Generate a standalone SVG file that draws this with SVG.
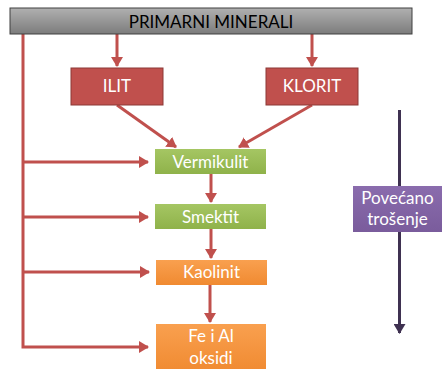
<svg xmlns="http://www.w3.org/2000/svg" width="445" height="369" viewBox="0 0 445 369">
<defs>
<linearGradient id="gGray" x1="0" y1="0" x2="0" y2="1"><stop offset="0" stop-color="#b0b0b0"/><stop offset="1" stop-color="#7c7c7c"/></linearGradient>
<linearGradient id="gGreen" x1="0" y1="0" x2="0" y2="1"><stop offset="0" stop-color="#a5c663"/><stop offset="1" stop-color="#8fb24a"/></linearGradient>
<linearGradient id="gOrange" x1="0" y1="0" x2="0" y2="1"><stop offset="0" stop-color="#f9a04f"/><stop offset="1" stop-color="#f08a31"/></linearGradient>
<linearGradient id="gPurple" x1="0" y1="0" x2="0" y2="1"><stop offset="0" stop-color="#8a6cad"/><stop offset="1" stop-color="#7a5c9c"/></linearGradient>
<marker id="ar" markerWidth="12" markerHeight="12" refX="9" refY="6" orient="auto" markerUnits="userSpaceOnUse"><path d="M0,0 L10,6 L0,12 z" fill="#c0504d"/></marker>
<marker id="ap" markerWidth="12" markerHeight="12" refX="9" refY="6" orient="auto" markerUnits="userSpaceOnUse"><path d="M0,0 L10,6 L0,12 z" fill="#3f3151"/></marker>
</defs>
<style>
.t{font-family:Lato,"Open Sans","Liberation Sans",sans-serif;font-size:17px;text-anchor:middle;fill:#ffffff}
.c{stroke:#c0504d;stroke-width:3;fill:none}
</style>
<g id="connectors">
<polyline class="c" points="23,34 23,347 148,347" marker-end="url(#ar)"/>
<line class="c" x1="23" y1="162" x2="148" y2="162" marker-end="url(#ar)"/>
<line class="c" x1="23" y1="217" x2="148" y2="217" marker-end="url(#ar)"/>
<line class="c" x1="23" y1="272" x2="149" y2="272" marker-end="url(#ar)"/>
<line class="c" x1="117" y1="34" x2="117" y2="66" marker-end="url(#ar)"/>
<line class="c" x1="312" y1="34" x2="312" y2="66" marker-end="url(#ar)"/>
<line class="c" x1="117" y1="105" x2="176" y2="147" marker-end="url(#ar)"/>
<line class="c" x1="312" y1="105" x2="239" y2="147" marker-end="url(#ar)"/>
<line class="c" x1="211" y1="174" x2="211" y2="202" marker-end="url(#ar)"/>
<line class="c" x1="211" y1="229" x2="211" y2="258" marker-end="url(#ar)"/>
<line class="c" x1="210" y1="285" x2="210" y2="322" marker-end="url(#ar)"/>
<line stroke="#3f3151" stroke-width="3" x1="399.5" y1="110" x2="399.5" y2="333" marker-end="url(#ap)"/>
</g>
<g id="primarni">
<rect x="10" y="8" width="402" height="26" fill="url(#gGray)" stroke="#404040" stroke-width="1"/>
<text class="t" x="211" y="28" style="fill:#000000">PRIMARNI MINERALI</text>
</g>
<g id="ilit">
<rect x="71" y="68" width="92" height="37" fill="#c0504d" stroke="#8c3836" stroke-width="1"/>
<text class="t" x="117" y="92">ILIT</text>
</g>
<g id="klorit">
<rect x="266" y="68" width="92" height="37" fill="#c0504d" stroke="#8c3836" stroke-width="1"/>
<text class="t" x="312" y="92">KLORIT</text>
</g>
<g id="vermikulit">
<rect x="155" y="149" width="111" height="25" fill="url(#gGreen)"/>
<text class="t" x="210.5" y="168">Vermikulit</text>
</g>
<g id="smektit">
<rect x="155" y="204" width="111" height="25" fill="url(#gGreen)"/>
<text class="t" x="210.5" y="223">Smektit</text>
</g>
<g id="kaolinit">
<rect x="156" y="260" width="111" height="25" fill="url(#gOrange)"/>
<text class="t" x="211.5" y="278">Kaolinit</text>
</g>
<g id="oksidi">
<rect x="156" y="324" width="110" height="48" fill="url(#gOrange)"/>
<text class="t" x="211" y="342">Fe i Al</text>
<text class="t" x="211" y="364">oksidi</text>
</g>
<g id="povecano">
<rect x="353" y="186" width="89" height="46" fill="url(#gPurple)"/>
<text class="t" x="397.5" y="204">Povećano</text>
<text class="t" x="397.5" y="225">trošenje</text>
</g>
</svg>
